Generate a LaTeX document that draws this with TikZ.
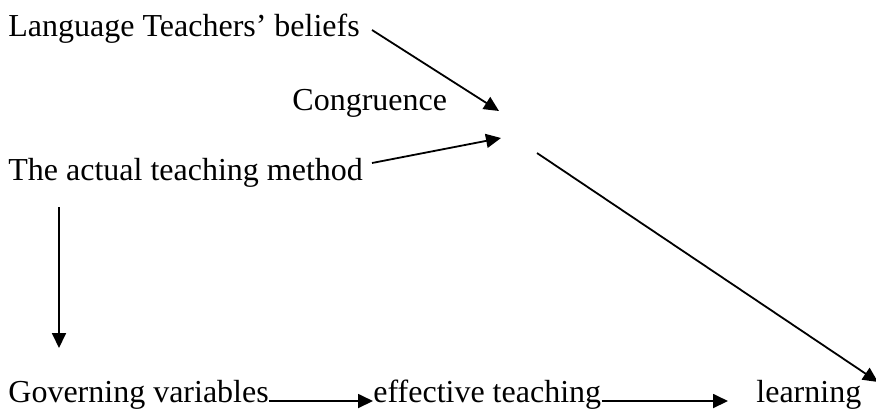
\documentclass[tikz,border=0pt]{standalone}
\usepackage{fontspec}
\setmainfont{Liberation Serif}
\usetikzlibrary{arrows.meta}

\begin{document}
\begin{tikzpicture}
[
	x=0.5pt,y=-0.5pt,
	txt/.style={inner sep=0pt,anchor=base west,font=\fontsize{16}{19}\selectfont},
	link/.style={line width=0.9pt,-{Triangle[length=7.5pt,width=7pt]}}
]
	\useasboundingbox (0,0) rectangle (876,409);

	% texts
	\node[txt] (beliefs) at (8,36) {Language Teachers’ beliefs};
	\node[txt] (congruence) at (292,110) {Congruence};
	\node[txt] (method) at (8,180) {The actual teaching method};
	\node[txt] (governing) at (8,402) {Governing variables};
	\node[txt] (effective) at (373,402) {effective teaching};
	\node[txt] (learning) at (756,402) {learning};

	% free ends
	\coordinate (b1) at (372,30);
	\coordinate (t1) at (499,111);
	\coordinate (m1) at (372,163);
	\coordinate (t2) at (501,138);
	\coordinate (d0) at (537,153);
	\coordinate (d1) at (878,382);
	\coordinate (v0) at (59,207);
	\coordinate (v1) at (59,348);
	\coordinate (e1) at (728,401);

	% congruence
	\draw[link] (b1) -- (t1);
	\draw[link] (m1) -- (t2);
	\draw[link] (d0) -- (d1);

	% chain
	\draw[link] (v0) -- (v1);
	\draw[link] (governing.east |- e1) -- (effective.west |- e1);
	\draw[link] (effective.east |- e1) -- (e1);

\end{tikzpicture}
\end{document}
